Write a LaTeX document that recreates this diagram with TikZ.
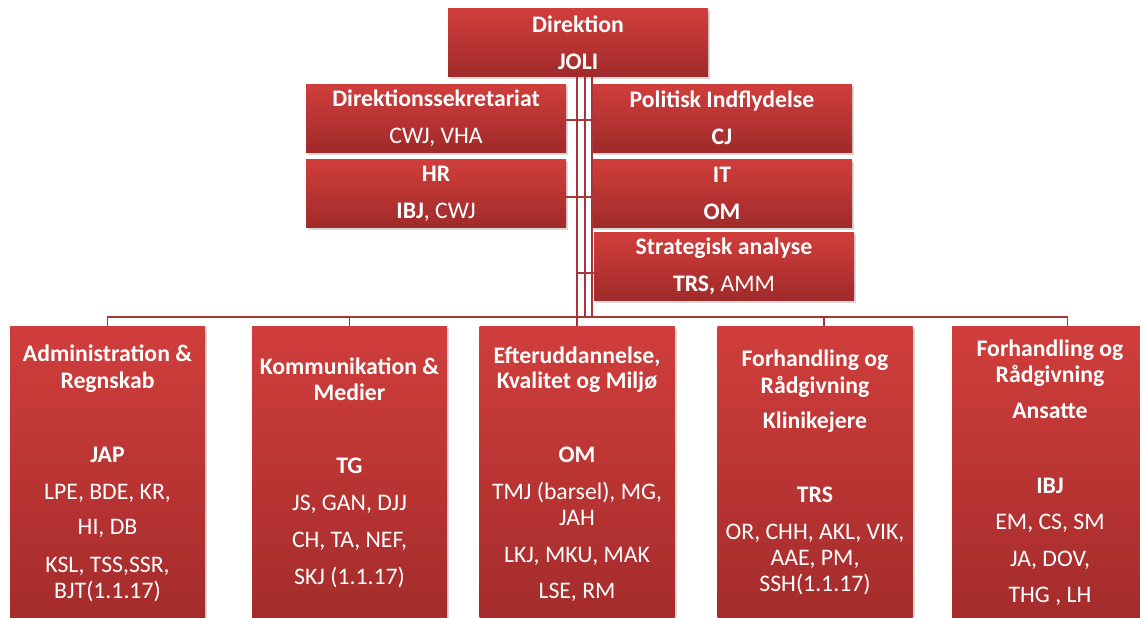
\documentclass[tikz,border=0pt]{standalone}
\usepackage{fontspec}
\setmainfont{Carlito}
\usetikzlibrary{shadows}
\definecolor{boxtop}{HTML}{D03E3C}
\definecolor{boxbot}{HTML}{A02A2A}
\definecolor{linered}{HTML}{A83636}

\tikzset{
  box/.style={rectangle, draw=none, top color=boxtop, bottom color=boxbot,
    drop shadow={opacity=0.3, shadow xshift=1.5pt, shadow yshift=-2pt},
    text=white, align=center, inner sep=0pt,
    font=\fontsize{17.8}{27.75}\selectfont},
  topbox/.style={box, minimum width=195pt, minimum height=51pt},
  unitbox/.style={box, minimum width=146.25pt, minimum height=240pt},
  txt/.style={text=white, inner sep=0pt, anchor=base, yshift=-5.6pt,
    font=\fontsize{17.8}{20}\selectfont},
  conn/.style={draw=linered, line width=1.1pt}
}

\begin{document}
\begin{tikzpicture}[x=0.75pt, y=-0.75pt]
  \useasboundingbox (0,0) rectangle (1140,618);
  \clip (0,0) rectangle (1140,618);
  \fill[white] (0,0) rectangle (1140,618);

  % Trunk ends on the bus
  \coordinate (tr1) at (577,317);
  \coordinate (tr2) at (585,317);
  \coordinate (tr3) at (592,317);

  % Top
  \node[topbox] (dir) at (578,42.5) {\textbf{Direktion}\\\textbf{JOLI}};

  % Staff functions
  \node[topbox] (dsek) at (436,118) {\textbf{Direktionssekretariat}\\CWJ, VHA};
  \node[topbox] (hr) at (436,193.5) {\textbf{HR}\\\textbf{IBJ}, CWJ};
  \node[topbox] (pol) at (722,118) {\textbf{Politisk Indflydelse}\\\textbf{CJ}};
  \node[topbox] (it) at (722,193.5) {\textbf{IT}\\\textbf{OM}};
  \node[topbox] (strat) at (724,266.5) {\textbf{Strategisk analyse}\\\textbf{TRS,} AMM};

  % Units
  \node[unitbox] (adm) at (107.5,486) {};
  \node[unitbox] (kom) at (349.5,486) {};
  \node[unitbox] (eft) at (577,486) {};
  \node[unitbox] (fk) at (815,486) {};
  \node[unitbox] (fa) at (1049.5,486) {};

  % Connectors
  \draw[conn] (dir.south -| tr1) -- (tr1);
  \draw[conn] (dir.south -| tr2) -- (tr2);
  \draw[conn] (dir.south -| tr3) -- (tr3);
  \draw[conn] (tr1) -- (tr3);
  \draw[conn] ([yshift=-1.5pt]dsek.east) -- ([yshift=-1.5pt]pol.west);
  \draw[conn] ([yshift=-2.5pt]hr.east) -- ([yshift=-2.5pt]it.west);
  \draw[conn] ([yshift=-5pt]strat.west) -- ([yshift=-5pt]strat.west -| tr1);
  \draw[conn] (tr1) -| (adm.north);
  \draw[conn] (tr1) -| (kom.north);
  \draw[conn] (tr1) -- (eft.north);
  \draw[conn] (tr3) -| ([xshift=6.75pt]fk.north);
  \draw[conn] (tr3) -| ([xshift=13.5pt]fa.north);

  % Unit texts
  \foreach \yy/\lbl [count=\k] in {354/\textbf{Administration \&}, 381/\textbf{Regnskab},
      455/\textbf{JAP}, 492/{LPE, BDE, KR,}, 527/{HI, DB}, 565/{KSL, TSS,SSR,}, 591/BJT(1.1.17)}
    \node[txt] (admt\k) at (107.5,\yy) {\lbl};
  \foreach \yy/\lbl [count=\k] in {367/\textbf{Kommunikation \&}, 393/\textbf{Medier},
      466/\textbf{TG}, 503/{JS, GAN, DJJ}, 540/{CH, TA, NEF,}, 577/SKJ (1.1.17)}
    \node[txt] (komt\k) at (349.5,\yy) {\lbl};
  \foreach \yy/\lbl [count=\k] in {356/\textbf{Efteruddannelse,}, 381/\textbf{Kvalitet og Miljø},
      455/\textbf{OM}, 492/{TMJ (barsel), MG,}, 518/JAH, 555/{LKJ, MKU, MAK}, 591/{LSE, RM}}
    \node[txt] (eftt\k) at (577,\yy) {\lbl};
  \foreach \yy/\lbl [count=\k] in {359/\textbf{Forhandling og}, 386/\textbf{Rådgivning},
      421/\textbf{Klinikejere}, 495/\textbf{TRS}, 532/{OR, CHH, AKL, VIK,}, 558/{AAE, PM,}, 584/SSH(1.1.17)}
    \node[txt] (fkt\k) at (815,\yy) {\lbl};
  \foreach \yy/\lbl [count=\k] in {349/\textbf{Forhandling og}, 375/\textbf{Rådgivning},
      411/\textbf{Ansatte}, 486/\textbf{IBJ}, 522/{EM, CS, SM}, 559/{JA, DOV,}, 595/{THG , LH}}
    \node[txt] (fat\k) at (1050,\yy) {\lbl};
\end{tikzpicture}
\end{document}
